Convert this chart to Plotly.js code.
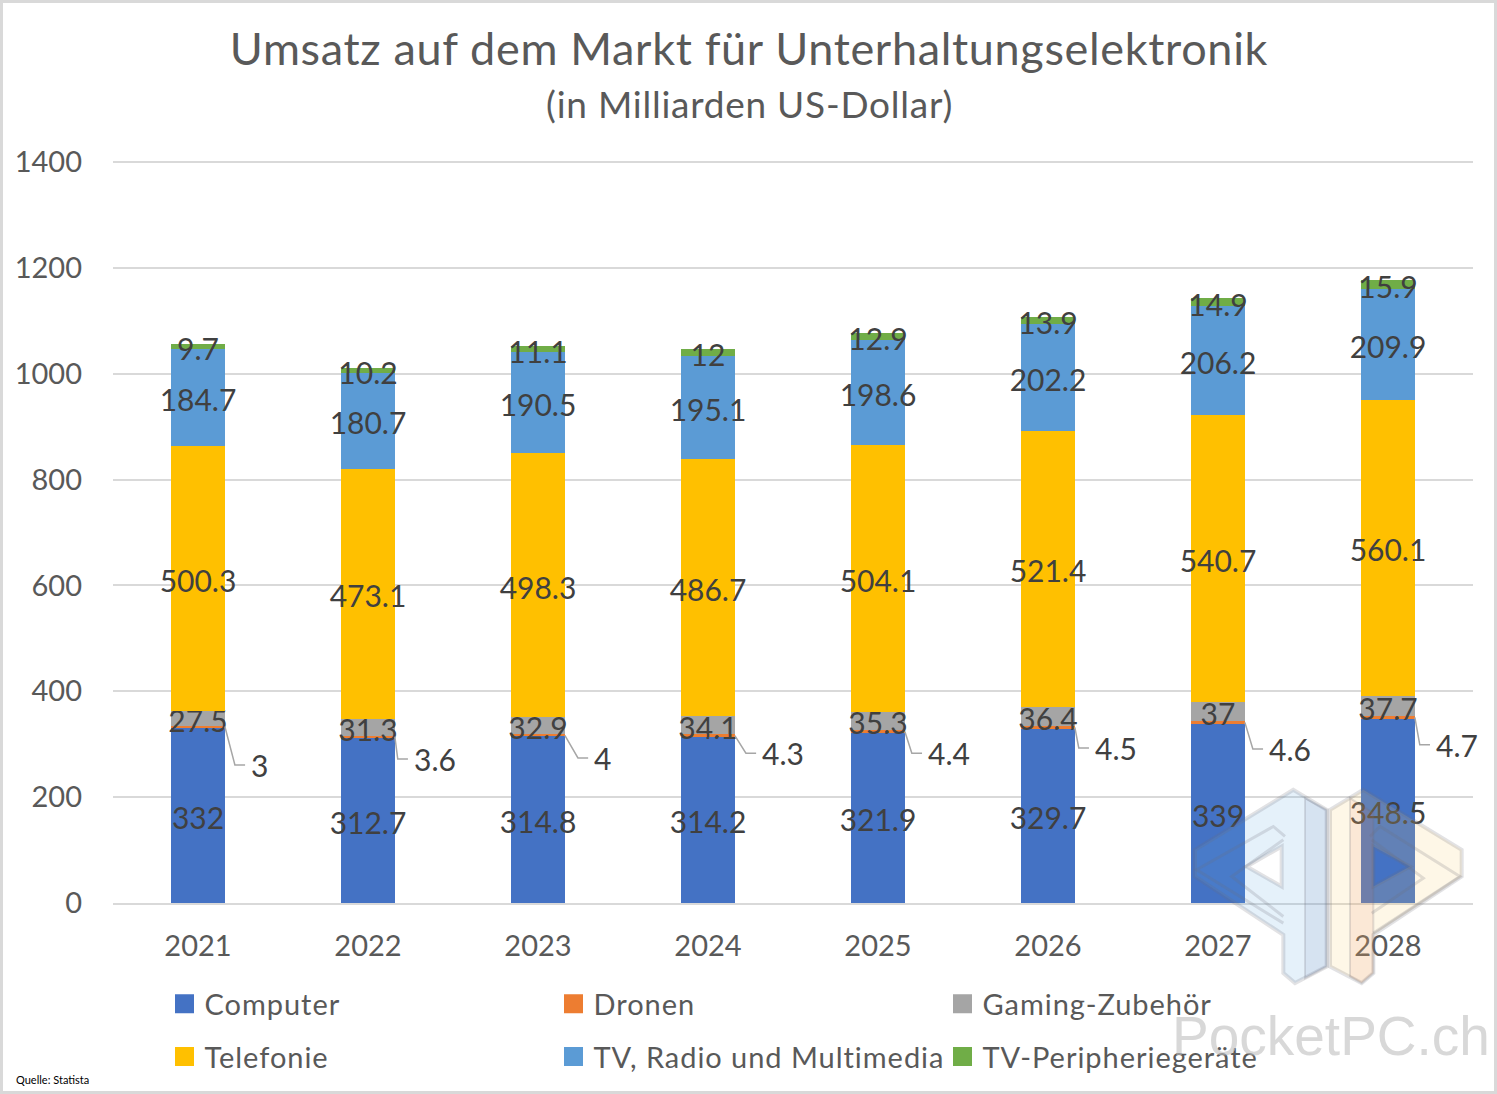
<!DOCTYPE html>
<html><head><meta charset="utf-8">
<script src="https://cdn.plot.ly/plotly-3.0.1.min.js"></script>
<style>
html,body{margin:0;padding:0;background:#fff}
#wrap{position:relative;width:1497px;height:1094px;overflow:hidden}
#wrap:after{content:"";position:absolute;left:0;top:0;right:0;bottom:0;border:3px solid #d9d9d9;pointer-events:none}
#chart{width:1497px;height:1094px}
.legendtext,.legend2text{letter-spacing:.96px}
</style></head><body>
<div id="wrap"><div id="chart"></div></div>
<script>
const years=[2021,2022,2023,2024,2025,2026,2027,2028];
const computer=[332,312.7,314.8,314.2,321.9,329.7,339,348.5];
const dronen=[3,3.6,4,4.3,4.4,4.5,4.6,4.7];
const gaming=[27.5,31.3,32.9,34.1,35.3,36.4,37,37.7];
const telefonie=[500.3,473.1,498.3,486.7,504.1,521.4,540.7,560.1];
const tvRadio=[184.7,180.7,190.5,195.1,198.6,202.2,206.2,209.9];
const tvPeripherie=[9.7,10.2,11.1,12,12.9,13.9,14.9,15.9];
const dronenLabelY=[261,272,274,283,283,293,291,299];
const dronenLabelDx=[.312,.27,.33,.318,.294,.276,.3,.282];
const yTicks=[0,200,400,600,800,1000,1200,1400];

const W=1497,H=1094,L=113,R=1473,B=903.2,yTop=1404,T=B-yTop*0.5293;
const px=x=>(x-L)/(R-L), py=y=>(B-y)/(B-T);
const font="Lato, 'Open Sans', sans-serif";
const textC='#404040', tickC='#595959';

function bar(name,vals,color,legend,showText){
  return {type:'bar',name,x:years,y:vals,width:0.315,marker:{color,line:{width:0}},legend,
    text:showText?vals.map(String):undefined,textposition:showText?'inside':'none',
    insidetextanchor:'middle',constraintext:'none',textangle:0,cliponaxis:false,
    insidetextfont:{family:font,size:30,color:textC},hoverinfo:'name+y'};
}
const leadX=[],leadY=[];
years.forEach((yr,i)=>{
  const top=computer[i]+dronen[i]/2, end=yr+dronenLabelDx[i]-0.035;
  leadX.push(yr+0.158,end-0.06,end,null);
  leadY.push(top,dronenLabelY[i],dronenLabelY[i],null);
});
const traces=[
  bar('Computer',computer,'#4472c4','legend',true),
  bar('Dronen',dronen,'#ed7d31','legend',false),
  bar('Gaming-Zubehör',gaming,'#a5a5a5','legend',true),
  bar('Telefonie',telefonie,'#ffc000','legend2',true),
  bar('TV, Radio und Multimedia',tvRadio,'#5b9bd5','legend2',true),
  bar('TV-Peripheriegeräte',tvPeripherie,'#70ad47','legend2',true),
  {type:'scatter',mode:'lines',x:leadX,y:leadY,showlegend:false,hoverinfo:'skip',cliponaxis:false,
    line:{color:'#a6a6a6',width:1.5}}
];
const annotations=years.map((yr,i)=>({xref:'x',yref:'y',x:yr+dronenLabelDx[i],y:dronenLabelY[i],
  text:String(dronen[i]),showarrow:false,xanchor:'left',yanchor:'middle',xshift:-2,
  font:{family:font,size:30,color:textC}}));
annotations.push({xref:'paper',yref:'paper',x:px(749),y:py(104),xanchor:'center',yanchor:'middle',showarrow:false,
  text:'<span style="letter-spacing:.76px">(in Milliarden US-Dollar)</span>',font:{family:font,size:37,color:tickC}});
annotations.push({xref:'paper',yref:'paper',x:px(14),y:py(1080),xanchor:'left',yanchor:'middle',showarrow:false,
  text:'Quelle: Statista',font:{family:font,size:11,color:'#000'}});
annotations.push({xref:'paper',yref:'paper',x:px(1331),y:py(1036),xanchor:'center',yanchor:'middle',showarrow:false,
  text:'PocketPC.ch',font:{family:"'Liberation Sans',Arial,sans-serif",size:55,color:'rgba(190,190,190,.6)'}});

// watermark logo outline, zoom-crop pixels mapped to the figure
const lx=x=>px(1100+x/3).toFixed(5), ly=y=>py(680+y/3).toFixed(5);
const pth=(pts,close=true)=>'M'+pts.map(p=>lx(p[0])+','+ly(p[1])).join('L')+(close?'Z':'');
const leftOuter=[[580,330],[285,510],[285,590],[550,765],[550,880],[585,910],[680,860],[680,390]];
const leftHole=[[545,500],[440,560],[545,620]];
const leftBand=[[615,355],[680,390],[680,860],[615,895]];
const rightOuter=[[790,330],[690,390],[690,860],[785,910],[820,880],[820,765],[1085,590],[1085,510]];
const rightHole=[[820,500],[930,560],[820,620]];
const rightBand=[[750,355],[820,400],[820,880],[785,910],[750,890]];
const leftTrack=[[555,470],[520,440],[290,570],[550,730]];
const leftTrack2=[[550,710],[395,590],[550,480]];
const rightTrack=[[810,470],[840,440],[1080,590],[820,760]];
const rightTrack2=[[815,700],[970,595],[815,480]];
const ws=(path,fill,lw)=>({type:'path',xref:'paper',yref:'paper',layer:'above',path,
  fillcolor:fill,line:{color:'rgba(110,110,120,.2)',width:lw}});
const shapes=[
  ws(pth(leftOuter)+pth(leftHole),'rgba(102,172,225,.17)',4),
  ws(pth(leftBand),'rgba(90,110,170,.1)',2),
  ws(pth(rightOuter)+pth(rightHole),'rgba(250,205,110,.17)',4),
  ws(pth(rightBand),'rgba(225,110,70,.1)',2),
  ws(pth(leftTrack,false),'rgba(0,0,0,0)',3),
  ws(pth(leftTrack2,false),'rgba(0,0,0,0)',3),
  ws(pth(rightTrack,false),'rgba(0,0,0,0)',3),
  ws(pth(rightTrack2,false),'rgba(0,0,0,0)',3)
];
const legendBase={orientation:'h',xanchor:'left',yanchor:'middle',x:px(164.5),
  entrywidth:344,entrywidthmode:'pixels',bgcolor:'rgba(0,0,0,0)',traceorder:'normal',
  font:{family:font,size:29,color:tickC}};
const layout={
  width:W,height:H,paper_bgcolor:'#fff',plot_bgcolor:'#fff',barmode:'stack',
  margin:{l:L,r:W-R,t:T,b:H-B,pad:0},font:{family:font,color:tickC},
  title:{text:'<span style="letter-spacing:.67px">Umsatz auf dem Markt für Unterhaltungselektronik</span>',
    font:{family:font,size:45,color:tickC},x:749/W,xref:'container',xanchor:'center',y:1-49/H,yref:'container',yanchor:'middle'},
  xaxis:{type:'linear',range:[2020.5,2028.5],tickmode:'array',tickvals:years,ticktext:years.map(String),
    showgrid:false,zeroline:false,showline:true,linecolor:'#d9d9d9',linewidth:2,ticks:'',
    ticklabelstandoff:16,tickfont:{family:font,size:29,color:tickC}},
  yaxis:{range:[0,yTop],tickmode:'array',tickvals:yTicks,ticktext:yTicks.map(String),
    gridcolor:'#d9d9d9',gridwidth:1.6,zeroline:false,showline:false,ticks:'',
    ticklabelstandoff:30,tickfont:{family:font,size:29,color:tickC}},
  showlegend:true,
  legend:Object.assign({},legendBase,{y:py(1004)}),
  legend2:Object.assign({},legendBase,{y:py(1057)}),
  annotations,shapes
};
Plotly.newPlot('chart',traces,layout,{displayModeBar:false,responsive:false}).then(gd=>{
  // legend swatches: square 19 px, as in the reference
  gd.querySelectorAll('.legendbar path, .legendpoints path').forEach(p=>{
    p.setAttribute('d','M9.5,9.5H-9.5V-9.5H9.5Z');
  });
  // bar labels sit slightly lower in the reference
  gd.querySelectorAll('text.bartext').forEach(t=>{
    t.setAttribute('transform','translate(0,1.5) '+(t.getAttribute('transform')||''));
  });
});
</script></body></html>
